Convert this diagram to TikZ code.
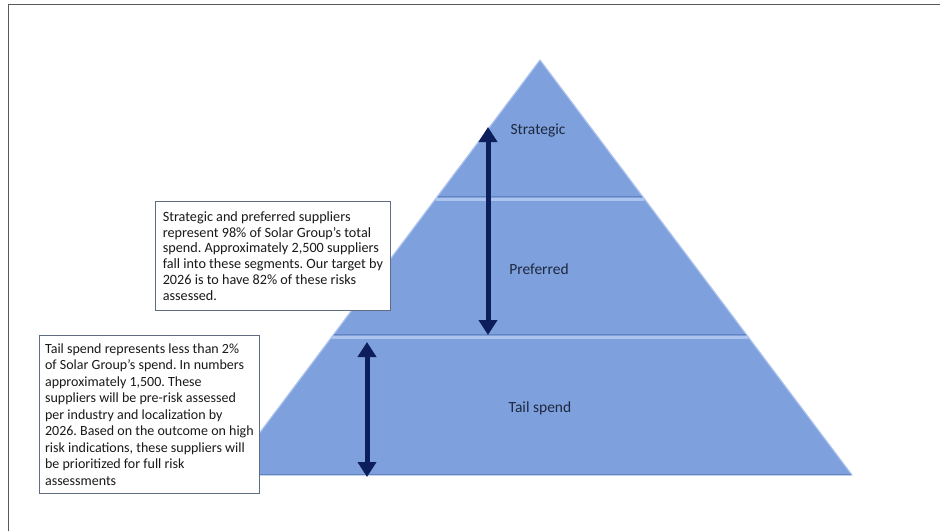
\documentclass[tikz,border=0pt]{standalone}
\usepackage{fontspec}
\setmainfont{Carlito}
\usepackage{tikz}
\usetikzlibrary{arrows.meta}
\frenchspacing

\definecolor{tierblue}{RGB}{126,160,221}
\definecolor{tieredge}{RGB}{172,196,238}
\definecolor{tierdark}{RGB}{100,130,190}
\definecolor{navy}{RGB}{12,30,92}
\definecolor{boxline}{RGB}{96,108,130}
\definecolor{labelink}{RGB}{30,40,62}

\tikzset{
  tier/.style={fill=tierblue,draw=tieredge,line width=1.2pt,line join=round},
  tierlabel/.style={font=\fontsize{15.5pt}{17pt}\selectfont,text=labelink},
  notebox/.style={draw=boxline,fill=white,line width=0.8pt,anchor=north west,align=left,
    text=black!90,inner xsep=6pt,inner ysep=4pt},
  span/.style={draw=navy,line width=5pt,{Triangle[width=18pt,length=15pt]}-{Triangle[width=18pt,length=15pt]}}
}

\begin{document}
\begin{tikzpicture}[x=1pt,y=-1pt]
  \useasboundingbox (0,0) rectangle (940,531);
  % frame
  \draw[gray!70!black,line width=0.8pt] (8,531) -- (8,4) -- (940,4);

  % pyramid
  \draw[tier] (540,60) -- (852,475) -- (228,475) -- cycle;
  % tier borders
  \draw[tierdark,line width=1pt] (438,196) -- (642,196);
  \draw[tieredge,line width=2.5pt] (436,199.5) -- (644,199.5);
  \draw[tierdark,line width=1pt] (334,334) -- (746,334);
  \draw[tieredge,line width=2.5pt] (332,337.5) -- (748,337.5);
  \draw[tierdark,line width=1pt] (229,474) -- (851,474);

  \node[tierlabel] (strategic) at (538,130) {Strategic};
  \node[tierlabel] (preferred) at (539,269) {Preferred};
  \node[tierlabel] (tail) at (540,408) {Tail spend};

  % spans
  \coordinate (sTop) at (488,127);
  \coordinate (sBot) at (488,335);
  \coordinate (tTop) at (367,342);
  \coordinate (tBot) at (367,477);
  \draw[span] (sTop) -- (sBot);
  \draw[span] (tTop) -- (tBot);

  % notes
  \node[notebox,font=\fontsize{14.2pt}{15.8pt}\selectfont,
        minimum width=235pt,minimum height=109pt] (noteA) at (155,201)
    {Strategic and preferred suppliers\\
     represent 98\% of Solar Group’s total\\
     spend. Approximately 2,500 suppliers\\
     fall into these segments. Our target by\\
     2026 is to have 82\% of these risks\\
     assessed.};
  \node[notebox,font=\fontsize{14pt}{16.5pt}\selectfont,inner xsep=4pt,
        minimum width=220pt,minimum height=158pt] (noteB) at (39,335)
    {Tail spend represents less than 2\%\\
     of Solar Group’s spend. In numbers\\
     approximately 1,500. These\\
     suppliers will be pre-risk assessed\\
     per industry and localization by\\
     2026. Based on the outcome on high\\
     risk indications, these suppliers will\\
     be prioritized for full risk\\
     assessments};
\end{tikzpicture}
\end{document}
